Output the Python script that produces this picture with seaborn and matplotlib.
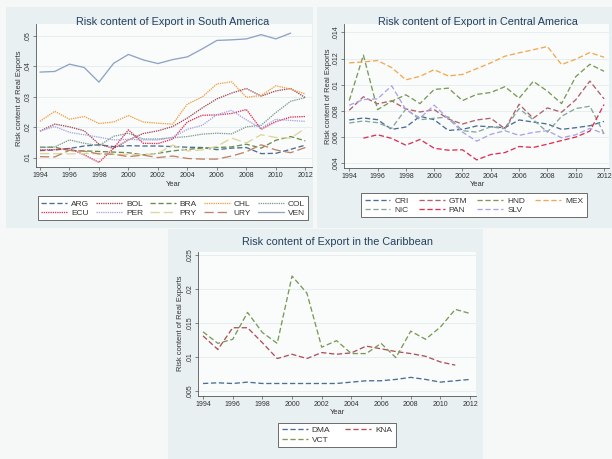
import numpy as np
import pandas as pd
import matplotlib
matplotlib.use("Agg")
import matplotlib.pyplot as plt
from matplotlib.patches import Rectangle
from matplotlib.lines import Line2D
import seaborn as sns

# ── data ──────────────────────────────────────────────────
years = list(range(1994, 2013))
nan = np.nan

# South America
ARG = [.0123, .0125, .0130, .0138, .0142, .0136, .0139, .0138, .0138, .0136, .0134, .0133, .0126, .0131, .0133, .0113, .0114, .0127, .0141]
BOL = [.0187, .0210, .0201, .0188, .0144, .0130, .0158, .0179, .0188, .0202, .0230, .0263, .0293, .0312, .0327, .0302, .0319, .0327, .0297]
BRA = [.0134, .0134, .0123, .0122, .0120, .0118, .0116, .0109, .0114, .0122, .0127, .0131, .0133, .0135, .0144, .0131, .0157, .0169, .0155]
CHL = [.0219, .0252, .0226, .0235, .0212, .0217, .0238, .0217, .0213, .0210, .0276, .0299, .0342, .0349, .0298, .0304, .0336, .0325, .0309]
COL = [.0133, .0135, .0158, .0147, .0139, .0170, .0180, .0161, .0161, .0165, .0169, .0177, .0180, .0178, .0201, .0206, .0248, .0285, .0297]
ECU = [.0125, .0126, .0130, .0109, .0084, .0131, .0191, .0147, .0146, .0161, .0217, .0239, .0240, .0245, .0258, .0193, .0218, .0233, .0235]
PER = [.0187, .0202, .0183, .0175, .0167, .0158, .0160, .0158, .0158, .0167, .0193, .0206, .0241, .0255, .0224, .0196, .0226, .0222, .0219]
PRY = [.0113, .0113, .0112, .0113, .0113, .0111, .0110, .0109, .0114, .0141, .0122, .0125, .0137, .0164, .0148, .0175, .0166, .0164, .0196]
URY = [.0103, .0102, .0124, .0121, .0112, .0111, .0103, .0108, .0100, .0105, .0097, .0095, .0095, .0105, .0119, .0142, .0125, .0116, .0133]
VEN = [.0381, .0383, .0407, .0396, .0348, .0410, .0439, .0421, .0409, .0422, .0431, .0457, .0485, .0487, .0490, .0504, .0490, .0509, nan]

# Central America
CRI = [.00731, .00746, .00733, .00659, .00677, .00759, .00733, .00651, .00659, .00685, .00679, .00672, .00731, .00715, .00700, .00659, .00672, .00687, .00720]
GTM = [.00805, .00908, .00854, .00877, .00815, .00792, .00810, .00738, .00700, .00731, .00744, .00664, .00851, .00744, .00823, .00790, .00885, .01028, .00892]
HND = [.00879, .01226, .00810, .00874, .00923, .00856, .00964, .00974, .00879, .00926, .00941, .00985, .00897, .01026, .00951, .00856, .01062, .01156, .01103]
MEX = [.01167, .01174, .01185, .01131, .01038, .01064, .01115, .01067, .01079, .01123, .01167, .01218, .01244, .01267, .01292, .01154, .01195, .01246, .01210]
NIC = [.00708, .00723, .00710, .00667, .00815, .00733, .00744, .00754, .00649, .00638, .00679, .00664, .00818, .00733, .00638, .00759, .00818, .00836, .00626]
PAN = [nan, .00592, .00618, .00590, .00538, .00582, .00515, .00500, .00503, .00426, .00467, .00482, .00528, .00521, .00546, .00574, .00600, .00646, .00849]
SLV = [.00844, .00887, .00892, .00992, .00810, .00746, .00844, .00741, .00638, .00569, .00621, .00649, .00613, .00636, .00649, .00595, .00618, .00667, .00626]

# Caribbean
DMA = [.0061, .0062, .0061, .0063, .0061, .0061, .0061, .0061, .0061, .0061, .0063, .0065, .0065, .0067, .0070, .0067, .0063, .0065, .0067]
KNA = [.0131, .0111, .0143, .0143, .0121, .00977, .0104, .00977, .01065, .0104, .0106, .0116, .0112, .0108, .0105, .0101, .00927, .0088, nan]
VCT = [.0137, .0120, .0126, .01655, .0136, .0120, .0219, .0194, .01144, .0124, .0105, .0105, .0120, .0099, .0138, .0126, .0144, .0170, .0164]

sa_names = ["ARG", "BOL", "BRA", "CHL", "COL", "ECU", "PER", "PRY", "URY", "VEN"]
sa_vals = [ARG, BOL, BRA, CHL, COL, ECU, PER, PRY, URY, VEN]
ca_names = ["CRI", "GTM", "HND", "MEX", "NIC", "PAN", "SLV"]
ca_vals = [CRI, GTM, HND, MEX, NIC, PAN, SLV]
cb_names = ["DMA", "KNA", "VCT"]
cb_vals = [DMA, KNA, VCT]

# ── styles ────────────────────────────────────────────────
colors = {
    "ARG": "#4a6e96", "BOL": "#a04a55", "BRA": "#6c8c4a", "CHL": "#f0a040", "COL": "#7f9e95",
    "ECU": "#dc3055", "PER": "#aaa4e6", "PRY": "#ddd59a", "URY": "#c08268", "VEN": "#8fa3c4",
    "CRI": "#4a6e96", "GTM": "#b0606a", "HND": "#7a9a55", "MEX": "#f2a850", "NIC": "#86a59b",
    "PAN": "#dc3055", "SLV": "#aaa4e6",
    "DMA": "#4a6e96", "KNA": "#b0505a", "VCT": "#7a9a55",
}
DASH = (4, 2)
DOT = (1, 0.7)
LONG = (7, 3)
sa_dashes = {"ARG": DASH, "BOL": DOT, "BRA": DASH, "CHL": DOT, "COL": DOT,
             "ECU": DOT, "PER": DOT, "PRY": LONG, "URY": LONG, "VEN": ""}

W, H = 612, 459
PANEL = "#e8f0f2"
PLOT = "#fafcfc"
GRID = "#e3ecee"
TITLE_C = "#24405e"
TXT = "#333333"

sns.set_theme(style="white")
plt.rcParams["font.family"] = ["Liberation Sans", "DejaVu Sans"]


def px(x0, y0, x1, y1):
    return [x0 / W, 1 - y1 / H, (x1 - x0) / W, (y1 - y0) / H]


def fmt(v):
    return f"{v:.3f}".rstrip("0").lstrip("0")


def draw(ax, names, vals, dashes, xlim, ylim, yticks):
    rows = [(n, yr, v) for n, vs in zip(names, vals) for yr, v in zip(years, vs) if not np.isnan(v)]
    df = pd.DataFrame(rows, columns=["country", "Year", "risk"])
    sns.lineplot(data=df, x="Year", y="risk", hue="country", style="country",
                 hue_order=names, style_order=names,
                 palette={n: colors[n] for n in names}, dashes=dashes,
                 lw=0.95, errorbar=None, legend=False, ax=ax)
    ax.set_facecolor(PLOT)
    ax.set_xlim(*xlim); ax.set_ylim(*ylim)
    ax.set_xticks(range(1994, 2013, 2))
    ax.set_xticklabels([str(y) for y in range(1994, 2013, 2)], fontsize=5, color=TXT)
    ax.set_yticks(yticks)
    ax.set_yticklabels([fmt(v) for v in yticks], rotation=90, va="center", fontsize=5, color=TXT)
    ax.tick_params(axis="both", direction="out", length=2.2, width=0.5, color="#555555", pad=1.5,
                   left=True, bottom=True)
    for y in yticks:
        ax.axhline(y, color=GRID, lw=0.6, zorder=0)
    for s in ["top", "right"]:
        ax.spines[s].set_visible(False)
    for s in ["left", "bottom"]:
        ax.spines[s].set_color("#555555"); ax.spines[s].set_linewidth(0.6)
    ax.set_xlabel(""); ax.set_ylabel("")


def legend(ax, names, dashes, ncol, order, center, colsp):
    hs = {}
    for n in names:
        d = dashes[n]
        ls = "-" if d == "" else (0, d)
        hs[n] = Line2D([], [], color=colors[n], lw=0.95, linestyle=ls)
    ax.legend([hs[n] for n in order], order, ncol=ncol, loc="center",
              bbox_to_anchor=(center[0] / W, 1 - center[1] / H), bbox_transform=fig.transFigure,
              fontsize=6, frameon=True, fancybox=False, edgecolor="#555555", facecolor="white",
              framealpha=1, handlelength=3.1, handletextpad=0.5, columnspacing=colsp,
              labelspacing=0.2, borderpad=0.4, labelcolor=TXT)
    ax.get_legend().get_frame().set_linewidth(0.6)


def labels(title, tc, xl, yl):
    fig.text(tc[0] / W, 1 - tc[1] / H, title, fontsize=7.8, color=TITLE_C, ha="center", va="center")
    fig.text(xl[0] / W, 1 - xl[1] / H, "Year", fontsize=5.4, color=TXT, ha="center", va="center")
    fig.text(yl[0] / W, 1 - yl[1] / H, "Risk content of Real Exports", fontsize=5.4, color=TXT,
             ha="center", va="center", rotation=90)


fig = plt.figure(figsize=(W / 100, H / 100), dpi=100)
fig.patch.set_facecolor("#f6f7f7")
for r in [(6, 7, 313, 228), (317, 7, 612, 228), (168, 229, 483, 459)]:
    fig.add_artist(Rectangle((r[0] / W, 1 - r[3] / H), (r[2] - r[0]) / W, (r[3] - r[1]) / H,
                             transform=fig.transFigure, facecolor=PANEL, edgecolor="none", zorder=-5))

# South America
ax1 = fig.add_axes(px(36, 24, 312, 167))
draw(ax1, sa_names, sa_vals, sa_dashes, (1993.73, 2012.45), (0.0069, 0.0539), [.01, .02, .03, .04, .05])
legend(ax1, sa_names, sa_dashes, 5,
       ["ARG", "ECU", "BOL", "PER", "BRA", "PRY", "CHL", "URY", "COL", "VEN"], (173, 208.5), 0.8)
labels("Risk content of Export in South America", (173, 22), (173, 184), (20, 98))

# Central America
ca_dashes = {n: DASH for n in ca_names}
ax2 = fig.add_axes(px(344, 24, 609, 168))
draw(ax2, ca_names, ca_vals, ca_dashes, (1993.63, 2012.35), (0.00364, 0.01464),
     [.004, .006, .008, .010, .012, .014])
legend(ax2, ca_names, ca_dashes, 4, ["CRI", "NIC", "GTM", "PAN", "HND", "SLV", "MEX"], (474, 205.5), 1.2)
labels("Risk content of Export in Central America", (478, 22), (477, 184), (328, 96))

# Caribbean
cb_dashes = {n: DASH for n in cb_names}
ax3 = fig.add_axes(px(198, 252, 476, 396))
draw(ax3, cb_names, cb_vals, cb_dashes, (1993.66, 2012.40), (0.00426, 0.02544),
     [.005, .010, .015, .020, .025])
legend(ax3, cb_names, cb_dashes, 2, ["DMA", "VCT", "KNA"], (337, 435), 1.8)
labels("Risk content of Export in the Caribbean", (338, 242), (337, 413), (180, 323))

fig.savefig("out.png", dpi=100, facecolor=fig.get_facecolor())
